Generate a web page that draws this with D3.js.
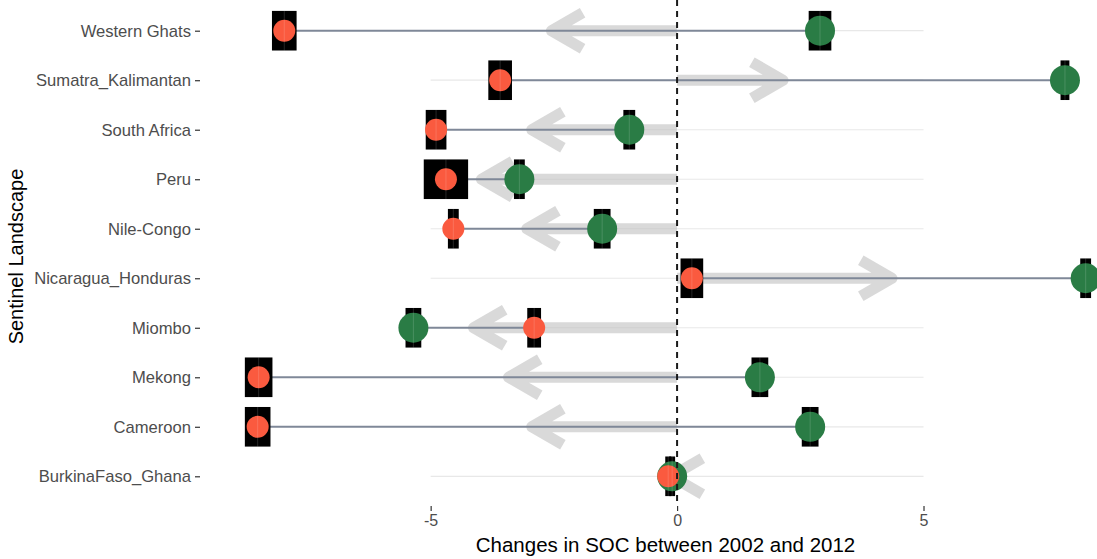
<!DOCTYPE html>
<html>
<head>
<meta charset="utf-8">
<script src="https://cdn.jsdelivr.net/npm/d3@7"></script>
<style>
  html, body { margin: 0; padding: 0; background: #fff; }
  svg { display: block; font-family: "Liberation Sans", Arial, Helvetica, sans-serif; }
</style>
</head>
<body>
<svg id="chart" width="1097" height="559"></svg>
<script>
// Sentinel landscapes, listed top to bottom
const landscapes = [
  "Western Ghats", "Sumatra_Kalimantan", "South Africa", "Peru", "Nile-Congo",
  "Nicaragua_Honduras", "Miombo", "Mekong", "Cameroon", "BurkinaFaso_Ghana"
];
// Red estimate and its half-width error
const estimateRed = [-7.97, -3.59, -4.89, -4.69, -4.54, 0.30, -2.90, -8.49, -8.51, -0.18];
const errorRed    = [0.25, 0.24, 0.21, 0.45, 0.11, 0.23, 0.14, 0.28, 0.26, 0.06];
// Green estimate and its half-width error
const estimateGreen = [2.90, 7.87, -0.97, -3.20, -1.52, 8.29, -5.35, 1.68, 2.70, -0.10];
const errorGreen    = [0.23, 0.09, 0.12, 0.11, 0.17, 0.11, 0.16, 0.17, 0.17, 0.06];
// Mean change, drawn as an arrow from zero
const meanChange = [-2.55, 2.15, -2.95, -3.97, -3.05, 4.36, -4.13, -3.42, -2.95, -0.12];
// Axis ticks
const xTicks = [-5, 0, 5];
const xTickLabels = ["-5", "0", "5"];
const xTitle = "Changes in SOC between 2002 and 2012";
const yTitle = "Sentinel Landscape";

const rows = landscapes.map((name, i) => ({
  name,
  red: estimateRed[i], redErr: errorRed[i],
  green: estimateGreen[i], greenErr: errorGreen[i],
  change: meanChange[i]
}));

const svg = d3.select("#chart");
const panel = { left: 200, right: 1131, top: 1, bottom: 506 };

const x = d3.scaleLinear().domain([-9.68, 9.21]).range([panel.left, panel.right]);
const y = d3.scalePoint().domain(landscapes).range([panel.top, panel.bottom]).padding(0.6);
const step = y.step();
const barH = step * 0.8;

const colRed = "#fa5a3f", colGreen = "#2a7c45";

// faint row guides between the outer ticks
svg.append("g").selectAll("line").data(rows).join("line")
  .attr("x1", x(d3.min(xTicks))).attr("x2", x(d3.max(xTicks)))
  .attr("y1", d => y(d.name)).attr("y2", d => y(d.name))
  .attr("stroke", "#e8e8e8").attr("stroke-width", 1.2);

// mean-change arrows with open chevron heads
const headLen = 36, headAng = Math.PI / 6;
svg.append("g").selectAll("path").data(rows).join("path")
  .attr("d", d => {
    const x0 = x(0), x1 = x(d.change), yy = y(d.name);
    const dir = Math.sign(x1 - x0) || 1;
    const bx = x1 - dir * headLen * Math.cos(headAng);
    const dy = headLen * Math.sin(headAng);
    return `M${x0},${yy}L${x1},${yy}M${bx},${yy - dy}L${x1},${yy}L${bx},${yy + dy}`;
  })
  .attr("fill", "none")
  .attr("stroke", "#bdbdbd").attr("stroke-opacity", 0.58)
  .attr("stroke-width", 11).attr("stroke-linejoin", "round");

// connecting segments
svg.append("g").selectAll("line").data(rows).join("line")
  .attr("x1", d => x(d.red)).attr("x2", d => x(d.green))
  .attr("y1", d => y(d.name)).attr("y2", d => y(d.name))
  .attr("stroke", "#7f8898").attr("stroke-width", 2);

// error blocks
const errs = rows.flatMap(d => [
  { name: d.name, v: d.green, e: d.greenErr },
  { name: d.name, v: d.red, e: d.redErr }
]);
svg.append("g").selectAll("rect").data(errs).join("rect")
  .attr("x", d => x(d.v - d.e))
  .attr("width", d => x(d.v + d.e) - x(d.v - d.e))
  .attr("y", d => y(d.name) - barH / 2)
  .attr("height", barH)
  .attr("fill", "#000");

// points: green first, red on top
svg.append("g").selectAll("circle").data(rows).join("circle")
  .attr("cx", d => x(d.green)).attr("cy", d => y(d.name)).attr("r", 15)
  .attr("fill", colGreen);
svg.append("g").selectAll("circle").data(rows).join("circle")
  .attr("cx", d => x(d.red)).attr("cy", d => y(d.name)).attr("r", 11)
  .attr("fill", colRed);

// faint centre line through each error block
svg.append("g").attr("stroke", "#fff").attr("stroke-opacity", 0.15).attr("stroke-width", 1)
  .selectAll("line").data(errs).join("line")
  .attr("x1", d => x(d.v)).attr("x2", d => x(d.v))
  .attr("y1", d => y(d.name) - barH / 2).attr("y2", d => y(d.name) + barH / 2);

// zero reference
svg.append("line")
  .attr("x1", x(0)).attr("x2", x(0))
  .attr("y1", 0).attr("y2", panel.bottom)
  .attr("stroke", "#1a1a1a").attr("stroke-width", 2)
  .attr("stroke-dasharray", "6,5");

// axes
const yAxis = svg.append("g")
  .attr("transform", `translate(${panel.left},0)`)
  .call(d3.axisLeft(y).tickSize(5).tickPadding(4));
const xAxis = svg.append("g")
  .attr("transform", `translate(0,${panel.bottom})`)
  .call(d3.axisBottom(x).tickValues(xTicks).tickFormat((d, i) => xTickLabels[i]).tickSize(5).tickPadding(4));
[yAxis, xAxis].forEach(g => {
  g.select(".domain").remove();
  g.selectAll(".tick line").attr("stroke", "#333").attr("stroke-width", 1.2);
  g.selectAll(".tick text").attr("fill", "#4d4d4d")
    .style("font-family", "'Liberation Sans', Arial, sans-serif");
});
yAxis.selectAll(".tick text").style("font-size", "16.6px");
xAxis.selectAll(".tick text").style("font-size", "16px");

svg.append("text")
  .attr("x", (panel.left + panel.right) / 2).attr("y", 552)
  .attr("text-anchor", "middle").attr("fill", "#000")
  .style("font-size", "20.5px").text(xTitle);

svg.append("text")
  .attr("transform", `translate(23,${(panel.top + panel.bottom) / 2 + 3}) rotate(-90)`)
  .attr("text-anchor", "middle").attr("fill", "#000")
  .style("font-size", "20px").text(yTitle);
</script>
</body>
</html>
